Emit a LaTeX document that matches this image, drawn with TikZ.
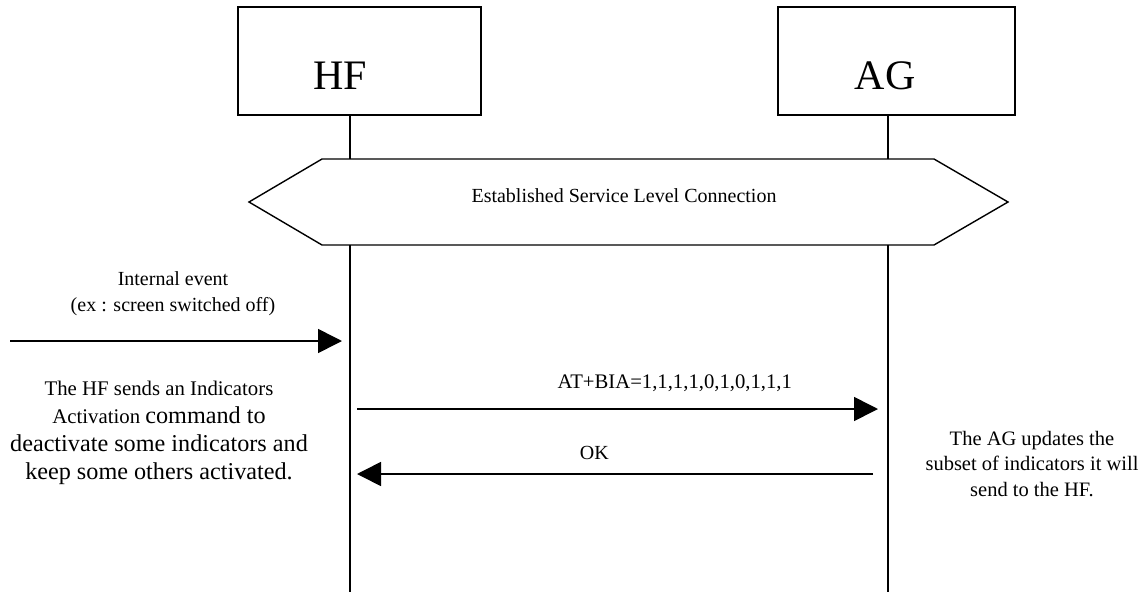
\documentclass[tikz,border=0pt]{standalone}
\usepackage{fontspec}
\setmainfont{Liberation Serif}
\usetikzlibrary{arrows.meta}
\begin{document}
\begin{tikzpicture}[x=1pt,y=-1pt,
    party/.style={draw,line width=1.4pt,minimum width=#1,minimum height=108pt,inner sep=0pt},
    life/.style={line width=1.8pt},
    msg/.style={line width=1.6pt,-{Triangle[length=24pt,width=24pt]}},
    note/.style={font=\fontsize{20}{26}\selectfont,align=center,inner sep=0pt}]
  \fill[white] (0,0) rectangle (1144,592);
  \useasboundingbox (0,0) rectangle (1144,592);
  \node[party=243pt] (hf) at (359.5,61) {};
  \node[party=237pt] (ag) at (896.5,61) {};
  \node[font=\fontsize{42}{42}\selectfont,inner sep=0pt] (hflabel) at (340,76) {HF};
  \node[font=\fontsize{42}{42}\selectfont,inner sep=0pt] (aglabel) at (885,76) {AG};
  \coordinate (hfend) at (350,592);
  \coordinate (agend) at (888,592);
  \draw[line width=1.4pt] (249,202) -- (322,159) -- (934,159) -- (1008,202) -- (934,245) -- (322,245) -- cycle;
  \node[note] (slc) at (624,196) {Established Service Level Connection};
  \draw[life] (hf.south -| hfend) -- (350,159);
  \draw[life] (350,245) -- (hfend);
  \draw[life] (ag.south -| agend) -- (888,159);
  \draw[life] (888,245) -- (agend);
  \node[note] (event) at (173,294) {Internal event\\(ex : screen switched off)};
  \coordinate (ext) at (10,341);
  \coordinate (hfin) at (342,341);
  \draw[msg] (ext) -- (hfin);
  \node[note,font=\fontsize{20.8}{28}\selectfont] (hfnote) at (159,433)
    {The HF sends an Indicators\\Activation {\fontsize{24.2}{28}\selectfont command to}\\
     {\fontsize{24.2}{28}\selectfont deactivate some indicators and}\\
     {\fontsize{24.2}{28}\selectfont keep some others activated.}};
  \coordinate (hf1) at (357,409);
  \coordinate (ag1) at (878,409);
  \draw[msg] (hf1) -- (ag1) node[note,font=\fontsize{20.7}{26}\selectfont,pos=0.61,above=17pt] (bia) {AT+BIA=1,1,1,1,0,1,0,1,1,1};
  \coordinate (ag2) at (873,474);
  \coordinate (hf2) at (357,474);
  \draw[msg] (ag2) -- (hf2) node[note,pos=0.54,above=14pt] (ok) {OK};
  \node[note,font=\fontsize{20.5}{25.5}\selectfont] (agnote) at (1032,464)
    {The AG updates the\\subset of indicators it will\\send to the HF.};
\end{tikzpicture}
\end{document}
